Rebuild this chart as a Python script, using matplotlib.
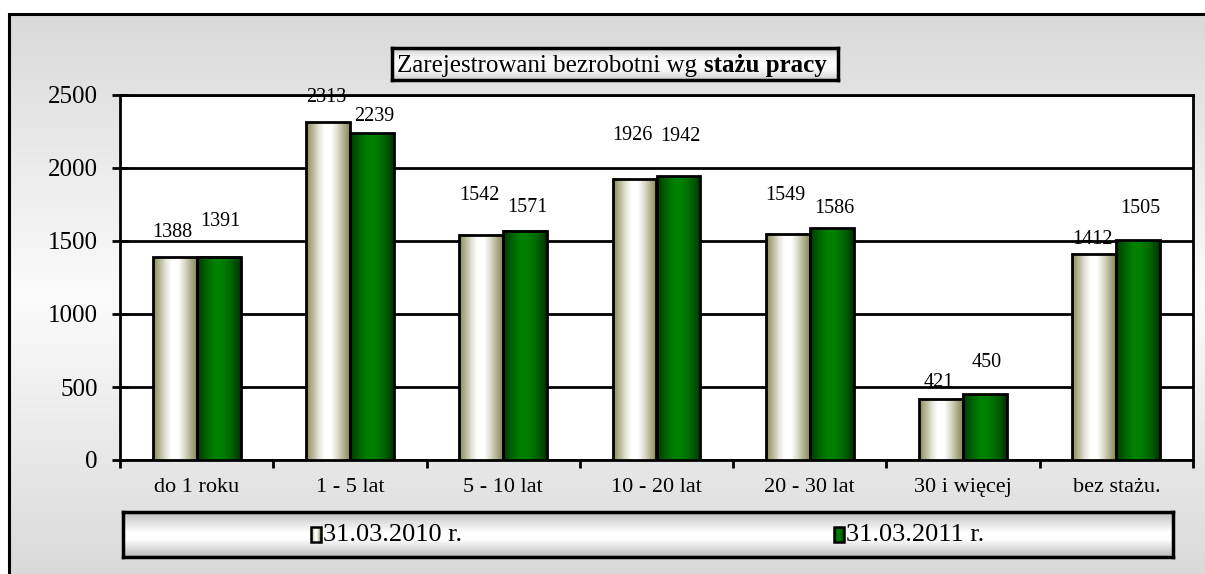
import numpy as np
import matplotlib
matplotlib.use("Agg")
import matplotlib.pyplot as plt
from matplotlib.colors import LinearSegmentedColormap
from matplotlib.patches import Rectangle

plt.rcParams['font.family'] = ['Liberation Serif', 'DejaVu Serif']

# data
categories = ['do 1 roku', '1 - 5 lat', '5 - 10 lat', '10 - 20 lat',
              '20 - 30 lat', '30 i więcej', 'bez stażu.']
series_names = ['31.03.2010 r.', '31.03.2011 r.']
values_2010 = [1388, 2313, 1542, 1926, 1549, 421, 1412]
values_2011 = [1391, 2239, 1571, 1942, 1586, 450, 1505]
yticks = [0, 500, 1000, 1500, 2000, 2500]

# label offsets above the bar top (pixels), as placed in the original
label_dy_2010 = [25, 25, 39, 43, 38, 16, 14]
label_dy_2011 = [35, 17, 23, 40, 20, 32, 32]

W, H = 1205, 574
fig = plt.figure(figsize=(W / 100, H / 100), dpi=100)
fig.patch.set_facecolor('white')

def fbox(x0, y0, x1, y1):
    # pixel box (top-left origin) -> figure fraction rect
    return [x0 / W, 1 - y1 / H, (x1 - x0) / W, (y1 - y0) / H]

# outer chart area with vertical gray gradient
bg = fig.add_axes(fbox(9, 14, W + 5, H + 5), zorder=0)
bg_cmap = LinearSegmentedColormap.from_list(
    'bg', [(0, '#d9d9d9'), (0.5, '#fbfbfb'), (1, '#d9d9d9')])
bg.imshow(np.linspace(0, 1, 256).reshape(-1, 1), cmap=bg_cmap,
          aspect='auto', extent=(0, 1, 0, 1))
bg.set_axis_off()
fig.add_artist(Rectangle((9 / W, -0.1), 1.2, 1 - 14 / H + 0.1,
                         transform=fig.transFigure, fill=False,
                         edgecolor='black', lw=2.2, zorder=1))

# bar gradients
cm_2010 = LinearSegmentedColormap.from_list(
    'c1', [(0, '#8a8a56'), (0.15, '#b8b89a'), (0.3, '#e6e6dc'), (0.42, '#ffffff'),
           (0.58, '#ffffff'), (0.72, '#dcdccc'), (0.87, '#aeae8c'), (1, '#8a8a56')])
cm_2011 = LinearSegmentedColormap.from_list(
    'c2', [(0, '#003800'), (0.2, '#006400'), (0.4, '#008000'), (0.55, '#008000'),
           (0.75, '#006a00'), (0.9, '#004c00'), (1, '#003000')])
grad = np.linspace(0, 1, 64).reshape(1, -1)

ax = fig.add_axes(fbox(120, 95, 1193, 460), zorder=2)
ax.set_facecolor('white')
x = np.arange(len(categories))
bw = 0.287

for vals, cmap, off, dys in [(values_2010, cm_2010, -bw / 2, label_dy_2010),
                             (values_2011, cm_2011, bw / 2, label_dy_2011)]:
    for xi, v, dy in zip(x, vals, dys):
        x0 = xi + off - bw / 2
        ax.imshow(grad, cmap=cmap, aspect='auto',
                  extent=(x0, x0 + bw, 0, v), zorder=3)
        ax.annotate(str(v), (xi + off, v), xytext=(np.sign(off) * 1.5, dy * 0.72),
                    textcoords='offset points', ha='center', va='center',
                    fontsize=14.5, zorder=5)
    ax.bar(x + off, vals, bw, fill=False, edgecolor='black', lw=2, zorder=4)

ax.set_xlim(-0.5, len(categories) - 0.5)
ax.set_ylim(0, 2500)
ax.set_yticks(yticks)
ax.yaxis.grid(True, color='black', lw=2)
ax.set_axisbelow(True)
ax.tick_params(axis='y', direction='inout', length=12, width=2,
               labelsize=18, pad=10)
ax.set_xticks(x)
ax.set_xticklabels(categories, fontsize=16)
ax.set_xticks(np.arange(-0.5, len(categories)), minor=True)
ax.tick_params(axis='x', which='major', length=0, pad=13)
ax.tick_params(axis='x', which='minor', direction='out', length=6, width=2)
for s in ax.spines.values():
    s.set_linewidth(2)
    s.set_color('black')

# title box
box_cmap = LinearSegmentedColormap.from_list(
    'box', [(0, '#cfcfcf'), (0.25, '#f2f2f2'), (0.5, '#ffffff'),
            (0.75, '#f2f2f2'), (1, '#cfcfcf')])
tax = fig.add_axes(fbox(392, 48, 838, 80), zorder=3)
tax.imshow(np.linspace(0, 1, 64).reshape(-1, 1), cmap=box_cmap,
           aspect='auto', extent=(0, 1, 0, 1))
tax.set_xticks([])
tax.set_yticks([])
for s in tax.spines.values():
    s.set_linewidth(2.5)
t1 = tax.text(0.012, 0.45, 'Zarejestrowani bezrobotni wg ', fontsize=18,
              va='center', ha='left', transform=tax.transAxes)
tax.annotate('stażu pracy', xy=(1, 0), xycoords=t1, va='bottom',
             ha='left', fontsize=18, fontweight='bold')

# legend box
lax = fig.add_axes(fbox(123, 512, 1173, 557), zorder=3)
leg_cmap = LinearSegmentedColormap.from_list(
    'leg', [(0, '#bdbdbd'), (0.2, '#dedede'), (0.45, '#ffffff'),
            (0.6, '#ffffff'), (0.8, '#dedede'), (1, '#bdbdbd')])
lax.imshow(np.linspace(0, 1, 64).reshape(-1, 1), cmap=leg_cmap,
           aspect='auto', extent=(123, 1173, 557, 512))
lax.set_xticks([])
lax.set_yticks([])
for s in lax.spines.values():
    s.set_linewidth(2.5)
for mx, name, cmap in [(311, series_names[0], cm_2010),
                       (834, series_names[1], cm_2011)]:
    lax.imshow(grad, cmap=cmap, aspect='auto',
               extent=(mx, mx + 10, 542, 527), zorder=3)
    lax.add_patch(Rectangle((mx, 527), 10, 15, fill=False,
                            edgecolor='black', lw=1.8, zorder=4))
    lax.text(mx + 12, 535, name, fontsize=19, va='center', ha='left')
lax.set_xlim(123, 1173)
lax.set_ylim(557, 512)

fig.savefig('out.png', dpi=100)
